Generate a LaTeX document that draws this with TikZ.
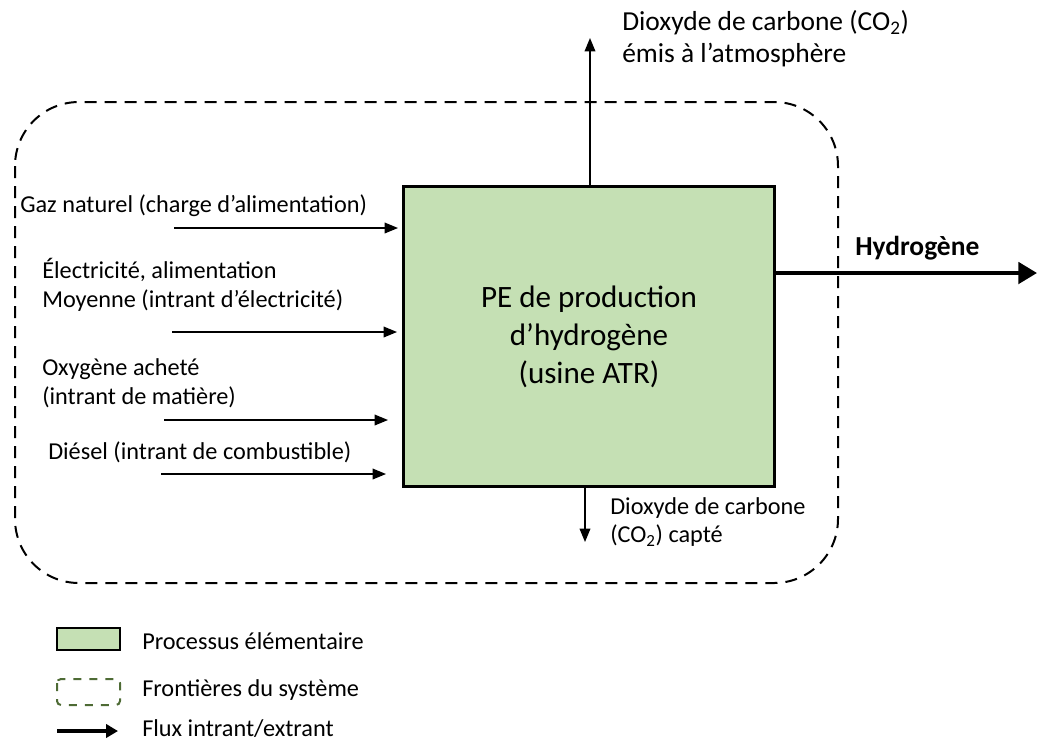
\documentclass[tikz,border=0pt]{standalone}
\usepackage{fontspec}
\setmainfont{Carlito}
\usetikzlibrary{arrows.meta}
\definecolor{peGreen}{HTML}{C5E0B4}
\definecolor{edgeGreen}{HTML}{4E6B35}
\tikzset{
  lbl/.style = {font = \fontsize{18.2}{21.5}\selectfont, anchor = west, align = left, inner sep = 0pt},
  biglbl/.style = {lbl, font = \fontsize{20.6}{24}\selectfont},
  flow/.style = {line width = 1pt, -{Triangle[length = 10pt, width = 8pt]}},
  bigflow/.style = {line width = 3pt, -{Triangle[length = 14pt, width = 16pt]}}
}

\begin{document}
\begin{tikzpicture}[x = 0.75pt, y = -0.75pt]
\useasboundingbox (0, 0) rectangle (1039, 744);
% system boundary
\draw[dashed, line width = 1.5pt, dash pattern = on 9pt off 6pt, rounded corners = 48pt] (15, 102) rectangle (838, 583);
% unit process
\node (pe) at (589, 336.5) [draw, fill = peGreen, line width = 2.4pt, minimum width = 278pt, minimum height = 225pt, align = center, font = \fontsize{23.3}{28.5}\selectfont] {PE de production\\d'hydrogène\\(usine ATR)};
% inputs
\coordinate (gasS) at (174, 228);  \coordinate (gasE) at (398, 228);
\coordinate (elecS) at (172, 332); \coordinate (elecE) at (397, 332);
\coordinate (oxyS) at (164, 420);  \coordinate (oxyE) at (388, 420);
\coordinate (dieS) at (161, 474);  \coordinate (dieE) at (386, 474);
\draw[flow] (gasS) -- (gasE);
\draw[flow] (elecS) -- (elecE);
\draw[flow] (oxyS) -- (oxyE);
\draw[flow] (dieS) -- (dieE);
\node (gas) at (20, 206) [lbl] {Gaz naturel (charge d'alimentation)};
\node (elec) at (42, 285) [lbl] {Électricité, alimentation\\Moyenne (intrant d'électricité)};
\node (oxy) at (42, 383) [lbl] {Oxygène acheté\\(intrant de matière)};
\node (die) at (48, 452) [lbl] {Diésel (intrant de combustible)};
% outputs
\coordinate (co2Up) at (590, 38);
\coordinate (co2Down) at (585, 542);
\coordinate (h2End) at (1037, 273);
\draw[flow] (co2Up |- pe.north) -- (co2Up);
\draw[flow] (co2Down |- pe.south) -- (co2Down);
\draw[bigflow] (pe.east |- h2End) -- (h2End);
\node (co2Air) at (622, 39) [biglbl] {Dioxyde de carbone (CO\textsubscript{2})\\émis à l'atmosphère};
\node (co2Cap) at (610, 522) [lbl] {Dioxyde de carbone\\(CO\textsubscript{2}) capté};
\node (h2) at (855, 248) [biglbl, font = \fontsize{20.6}{24}\selectfont\bfseries] {Hydrogène};
% legend
\draw[fill = peGreen, line width = 0.8pt] (57, 628) rectangle (120, 650);
\node (legPE) at (142, 641) [lbl] {Processus élémentaire};
\draw[edgeGreen, line width = 1.5pt, dash pattern = on 6pt off 6pt, rounded corners = 3pt] (57, 679) rectangle (120, 705);
\node (legSys) at (142, 690) [lbl] {Frontières du système};
\coordinate (legS) at (57, 731); \coordinate (legE) at (118, 731);
\draw[line width = 3pt, -{Triangle[length = 9pt, width = 10pt]}] (legS) -- (legE);
\node (legFlux) at (142, 729) [lbl] {Flux intrant/extrant};
\end{tikzpicture}
\end{document}
